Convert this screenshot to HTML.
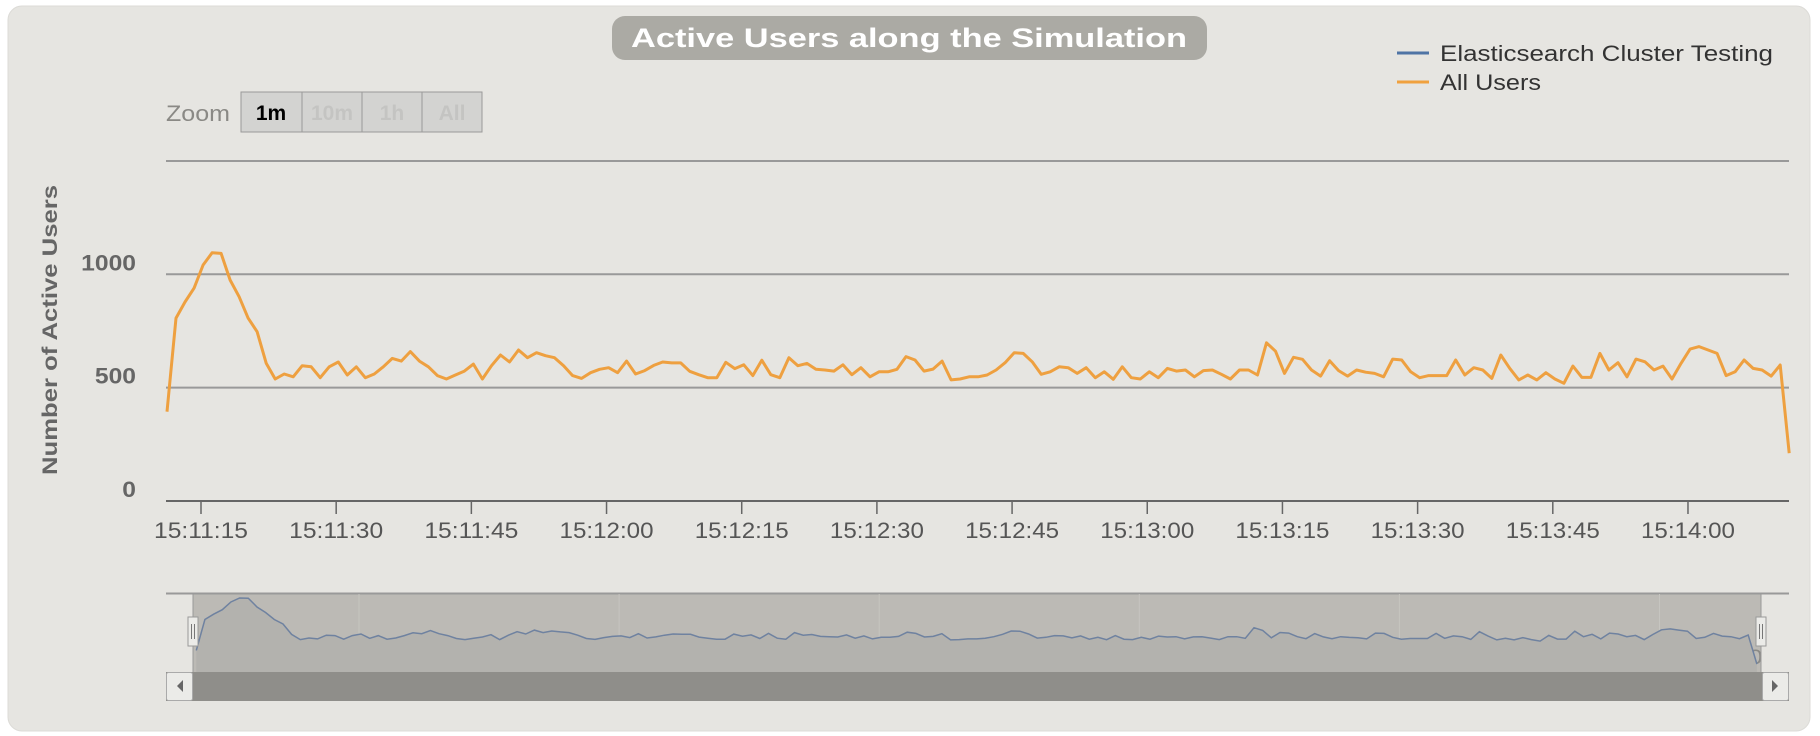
<!DOCTYPE html>
<html><head><meta charset="utf-8"><style>
html,body{margin:0;padding:0;background:#fff;}
svg{display:block;font-family:"Liberation Sans",sans-serif;}
</style></head><body>
<svg id="chart" width="1820" height="736" viewBox="0 0 1820 736">
<rect x="8" y="6" width="1802" height="725" rx="14" fill="#e6e5e1" stroke="#dcdbd7"/>
<g>
<rect x="612" y="16" width="595" height="44" rx="13" fill="#abaaa4"/>
<text x="909" y="47" text-anchor="middle" fill="#fff" font-weight="bold" font-size="27" textLength="556" lengthAdjust="spacingAndGlyphs">Active Users along the Simulation</text>
</g>
<g>
<g><line x1="1397" y1="53" x2="1429" y2="53" stroke="#4f74a5" stroke-width="3"/><text x="1440" y="61" font-size="22" fill="#333" textLength="333" lengthAdjust="spacingAndGlyphs">Elasticsearch Cluster Testing</text></g>
<g><line x1="1397" y1="82" x2="1429" y2="82" stroke="#f0a13e" stroke-width="3"/><text x="1440" y="90" font-size="22" fill="#333" textLength="101" lengthAdjust="spacingAndGlyphs">All Users</text></g>
</g>
<g>
<text x="166" y="121" font-size="22" fill="#8a8985" textLength="64" lengthAdjust="spacingAndGlyphs">Zoom</text>
<g><rect x="241" y="92" width="61" height="40" fill="#d3d3d1" stroke="#999"/><text x="271" y="120" text-anchor="middle" font-size="21" font-weight="bold" fill="#000">1m</text></g>
<g><rect x="302" y="92" width="60" height="40" fill="#d3d3d1" stroke="#999"/><text x="332" y="120" text-anchor="middle" font-size="21" font-weight="bold" fill="#c4c4c2">10m</text></g>
<g><rect x="362" y="92" width="60" height="40" fill="#d3d3d1" stroke="#999"/><text x="392" y="120" text-anchor="middle" font-size="21" font-weight="bold" fill="#c4c4c2">1h</text></g>
<g><rect x="422" y="92" width="60" height="40" fill="#d3d3d1" stroke="#999"/><text x="452" y="120" text-anchor="middle" font-size="21" font-weight="bold" fill="#c4c4c2">All</text></g>
</g>
<text transform="translate(57,330) rotate(-90)" text-anchor="middle" font-size="21" font-weight="bold" fill="#666" textLength="290" lengthAdjust="spacingAndGlyphs">Number of Active Users</text>
<g id="grid"></g>
<g id="navigator"></g>
<g id="series"></g>
</svg>
<script>
const values = [394,807,878,939,1041,1095,1092,975,901,807,747,608,538,560,548,597,592,544,592,613,556,592,544,560,592,629,617,659,617,592,553,538,556,573,604,538,597,644,613,666,632,654,641,632,597,553,541,
566,581,588,566,617,560,575,598,613,609,609,572,557,544,544,612,584,601,553,621,557,544,632,597,607,581,578,573,601,557,588,548,570,570,581,637,622,573,582,617,534,538,548,548,556,
578,610,654,651,614,559,570,592,588,563,588,544,570,537,592,544,538,570,544,585,573,578,548,575,578,559,538,578,578,556,698,661,563,634,625,578,551,619,575,551,578,568,563,548,626,622,
570,544,553,553,553,622,556,588,578,541,644,585,534,556,534,566,538,519,595,545,545,651,578,610,548,626,614,578,595,538,607,670,681,666,651,553,570,622,585,578,551,600,211];
const startSec = 11.23;
const yTicks = [0,500,1000,1500];
const xTickSecs = [15,30,45,60,75,90,105,120,135,150,165,180];
const xTickLabels = ["15:11:15","15:11:30","15:11:45","15:12:00","15:12:15","15:12:30","15:12:45","15:13:00","15:13:15","15:13:30","15:13:45","15:14:00"];
const navTickSecs = [30,60,90,120,150,180];
const navTickLabels = ["15:11:30","15:12:00","15:12:30","15:13:00","15:13:30","15:14:00"];

const NS="http://www.w3.org/2000/svg";
function mk(tag,attrs,parent){const e=document.createElementNS(NS,tag);for(const k in attrs)e.setAttribute(k,attrs[k]);parent.appendChild(e);return e;}
const X = s => 201 + (s-15)*9.012;
const Y = v => 501 - v*0.2267;
const NX = s => 359 + (s-30)*8.67;
const NY = v => 638 - (v-560)*0.0748;

const grid=document.getElementById('grid');
yTicks.forEach(v=>{
  if(v>0){const l=mk('line',{x1:166,x2:1789,y1:Y(v),y2:Y(v),stroke:'#999','stroke-width':2},grid);
  
  }
  if(v<1500){const s=String(v);const t=mk('text',{x:136,y:Y(v)-4,'text-anchor':'end','font-size':22,'font-weight':'bold',fill:'#666',textLength:s.length*13.7,lengthAdjust:'spacingAndGlyphs'},grid);t.textContent=s;
  
  }
});
const ax=mk('line',{x1:166,x2:1789,y1:501,y2:501,stroke:'#666','stroke-width':2},grid);


xTickSecs.forEach((s,i)=>{
  if(X(s)>1789)return;
  const tk=mk('line',{x1:X(s),x2:X(s),y1:501,y2:514,stroke:'#666','stroke-width':1.5},grid);
  
  
  const t=mk('text',{x:X(s),y:538,'text-anchor':'middle','font-size':22,fill:'#555',textLength:94,lengthAdjust:'spacingAndGlyphs'},grid);t.textContent=xTickLabels[i];
  
  
});

const nav=document.getElementById('navigator');
const x0=NX(startSec), x1=NX(startSec+values.length-1);
const sel=mk('rect',{x:193,y:593,width:1568,height:79,fill:'#bcbab5'},nav);


mk('line',{x1:166,x2:1789,y1:593.5,y2:593.5,stroke:'#999','stroke-width':2},nav);
navTickSecs.forEach((s,i)=>{
  mk('line',{x1:NX(s),x2:NX(s),y1:594,y2:672,stroke:'#c6c5c0','stroke-width':1},nav);
  const t=mk('text',{x:NX(s)+7,y:664,'font-size':21,fill:'#8a8985',textLength:96,lengthAdjust:'spacingAndGlyphs'},nav);t.textContent=navTickLabels[i];
  
  
});
let np='';values.forEach((v,i)=>{np+=(i?'L':'M')+NX(startSec+i).toFixed(1)+','+NY(v).toFixed(1);});
const na=mk('path',{d:np+`L${x1},672L${x0},672Z`,fill:'#b3b2ae'},nav);


const nl=mk('path',{d:np,fill:'none',stroke:'#6f82a0','stroke-width':1.5},nav);


mk('line',{x1:193,x2:193,y1:593,y2:672,stroke:'#999','stroke-width':1},nav);
mk('line',{x1:1761,x2:1761,y1:593,y2:672,stroke:'#999','stroke-width':1},nav);
[193,1761].forEach((hx,i)=>{
  const h=mk('g',{},nav);
  
  
  mk('rect',{x:hx-5,y:617,width:10,height:29,fill:'#ebebe8',stroke:'#999'},h);
  mk('line',{x1:hx-1.5,x2:hx-1.5,y1:624,y2:639,stroke:'#777'},h);
  mk('line',{x1:hx+1.5,x2:hx+1.5,y1:624,y2:639,stroke:'#777'},h);
});
const sb=mk('g',{},nav);


mk('rect',{x:166,y:672,width:1623,height:29,fill:'#8f8e8a'},sb);
mk('rect',{x:166.5,y:672.5,width:26,height:28,rx:2,fill:'#ebebe8',stroke:'#aaa'},sb);
mk('path',{d:'M183,680L177,686L183,692Z',fill:'#666'},sb);
mk('rect',{x:1762.5,y:672.5,width:26,height:28,rx:2,fill:'#ebebe8',stroke:'#aaa'},sb);
mk('path',{d:'M1772,680L1778,686L1772,692Z',fill:'#666'},sb);

const ser=document.getElementById('series');
let p='';values.forEach((v,i)=>{p+=(i?'L':'M')+X(startSec+i).toFixed(1)+','+Y(v).toFixed(1);});
const ml=mk('path',{d:p,fill:'none',stroke:'#eea040','stroke-width':3,'stroke-linejoin':'round'},ser);


</script>
</body></html>
